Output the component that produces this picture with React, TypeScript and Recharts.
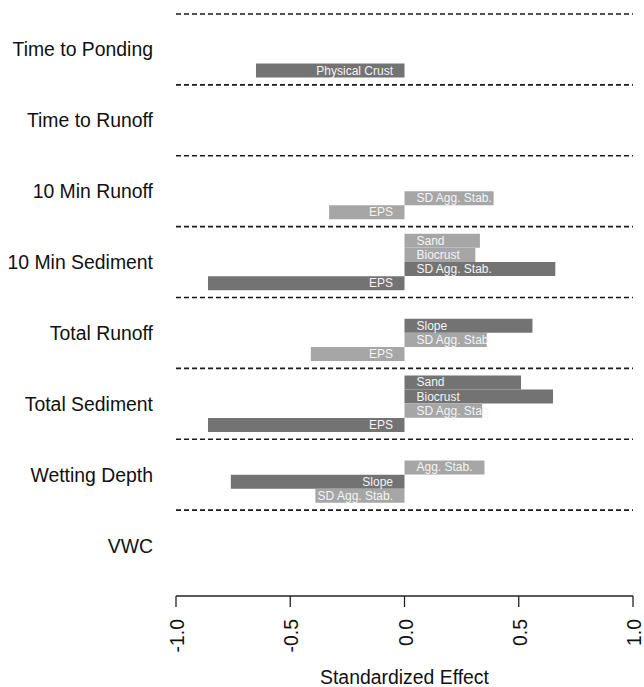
import { BarChart, Bar, XAxis, YAxis, ReferenceLine, Cell, LabelList } from "recharts";

const groups = [
  "Time to Ponding",
  "Time to Runoff",
  "10 Min Runoff",
  "10 Min Sediment",
  "Total Runoff",
  "Total Sediment",
  "Wetting Depth",
  "VWC",
];

// one entry per bar: which group, which slot (0 = top of the 4 slots), label, effect, dark shade
const barGroup = [0, 2, 2, 3, 3, 3, 3, 4, 4, 4, 5, 5, 5, 5, 6, 6, 6];
const barSlot = [3, 2, 3, 0, 1, 2, 3, 1, 2, 3, 0, 1, 2, 3, 1, 2, 3];
const barLabels = [
  "Physical Crust",
  "SD Agg. Stab.", "EPS",
  "Sand", "Biocrust", "SD Agg. Stab.", "EPS",
  "Slope", "SD Agg. Stab.", "EPS",
  "Sand", "Biocrust", "SD Agg. Stab.", "EPS",
  "Agg. Stab.", "Slope", "SD Agg. Stab.",
];
const barValues = [
  -0.65,
  0.39, -0.33,
  0.33, 0.31, 0.66, -0.86,
  0.56, 0.36, -0.41,
  0.51, 0.65, 0.34, -0.86,
  0.35, -0.76, -0.39,
];
const barDark = [
  true,
  false, false,
  false, false, true, true,
  true, false, false,
  true, true, false, true,
  false, true, false,
];

const xTicks = [-1, -0.5, 0, 0.5, 1];

const SLOTS = 5; // rows per group (4 bars + half a row of space above and below)
const FONT = "'Liberation Sans', Arial, sans-serif";
const DARK = "#737373";
const LIGHT = "#a6a6a6";

const rows = barValues.map((v, i) => ({
  pos: barGroup[i] * SLOTS + 1 + barSlot[i],
  value: v,
  label: barLabels[i],
  dark: barDark[i],
}));

const groupTicks = groups.map((_, g) => g * SLOTS + SLOTS / 2);
const dividers = groups.map((_, g) => g * SLOTS);

function GroupTick(props: any) {
  const { y, payload } = props;
  const name = groups[Math.floor(payload.value / SLOTS)];
  return (
    <text x={153} y={y} textAnchor="end" dominantBaseline="central" fontSize={19.4} fill="#111" fontFamily={FONT}>
      {name}
    </text>
  );
}

function EffectTick(props: any) {
  const { x, y, payload } = props;
  const ty = y + 10;
  return (
    <text
      x={x + 1}
      y={ty}
      transform={`rotate(-90, ${x + 1}, ${ty})`}
      textAnchor="end"
      dominantBaseline="central"
      fontSize={19.4}
      fill="#111"
      fontFamily={FONT}
    >
      {payload.value.toFixed(1)}
    </text>
  );
}

function BarText(props: any) {
  const { x, y, width, height, value, index } = props;
  const v = rows[index].value;
  const zero = v >= 0 ? Math.min(x, x + width) : Math.max(x, x + width);
  const pos = v >= 0;
  return (
    <text
      x={pos ? zero + 12 : zero - 11.5}
      y={y + height / 2}
      textAnchor={pos ? "start" : "end"}
      dominantBaseline="central"
      fontSize={12}
      fill="#f4f4f4"
      fontFamily={FONT}
    >
      {value}
    </text>
  );
}

export default function App() {
  return (
    <div style={{ position: "absolute", left: 0, top: 0, width: 644, height: 687, background: "#fff" }}>
      <BarChart
        width={644}
        height={687}
        data={rows}
        layout="vertical"
        margin={{ top: 14, right: 11, bottom: 0, left: 0 }}
      >
        <XAxis
          type="number"
          domain={[-1, 1]}
          ticks={xTicks}
          tick={<EffectTick />}
          tickSize={11}
          height={91}
          axisLine={{ stroke: "#222", strokeWidth: 1.3 }}
          tickLine={{ stroke: "#222", strokeWidth: 1.3 }}
          label={{
            value: "Standardized Effect",
            position: "insideBottom",
            offset: 3,
            fontSize: 19.4,
            fill: "#111",
            fontFamily: FONT,
          }}
        />
        <YAxis
          type="number"
          dataKey="pos"
          domain={[0, 41.06]}
          ticks={groupTicks}
          tick={<GroupTick />}
          axisLine={false}
          tickLine={false}
          width={176}
          interval={0}
        />
        {dividers.map((d) => (
          <ReferenceLine key={d} y={d} stroke="#1a1a1a" strokeWidth={1.7} strokeDasharray="5 3" />
        ))}
        <Bar dataKey="value" barSize={14} isAnimationActive={false}>
          {rows.map((r, i) => (
            <Cell key={i} fill={r.dark ? DARK : LIGHT} />
          ))}
          <LabelList dataKey="label" content={<BarText />} />
        </Bar>
      </BarChart>
    </div>
  );
}
